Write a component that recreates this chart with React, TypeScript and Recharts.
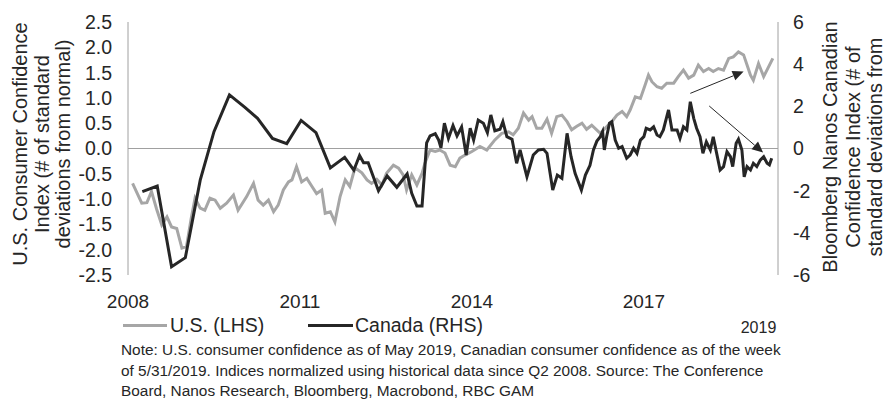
import React from "react";
import { LineChart, Line, XAxis, YAxis, ReferenceLine } from "recharts";

// [decimal year, std deviations]
const usSeries: [number, number][] = [
  [2008.08, -0.69], [2008.24, -1.08], [2008.33, -1.07], [2008.41, -0.85], [2008.5, -1.2],
  [2008.59, -1.51], [2008.68, -1.35], [2008.76, -1.55], [2008.85, -1.58], [2008.94, -1.97],
  [2009.02, -1.94], [2009.1, -1.4], [2009.17, -0.98], [2009.26, -1.18], [2009.34, -1.22],
  [2009.43, -0.98], [2009.52, -1.02], [2009.61, -1.18], [2009.72, -1.08], [2009.84, -0.92],
  [2009.92, -1.22], [2010.07, -0.95], [2010.19, -0.69], [2010.27, -1.02], [2010.36, -1.12],
  [2010.45, -1.02], [2010.54, -1.25], [2010.62, -1.12], [2010.71, -0.82], [2010.8, -0.66],
  [2010.86, -0.62], [2010.94, -0.36], [2011.03, -0.66], [2011.12, -0.59], [2011.21, -0.75],
  [2011.29, -0.89], [2011.38, -0.82], [2011.44, -1.28], [2011.53, -1.25], [2011.61, -1.45],
  [2011.7, -0.95], [2011.79, -0.62], [2011.87, -0.75], [2011.96, -0.38], [2012.08, -0.48],
  [2012.17, -0.62], [2012.25, -0.69], [2012.34, -0.61], [2012.43, -0.72], [2012.51, -0.49],
  [2012.63, -0.33], [2012.72, -0.39], [2012.8, -0.52], [2012.86, -0.82], [2012.95, -0.52],
  [2013.04, -0.72], [2013.13, -0.49], [2013.18, -0.29], [2013.27, -0.03], [2013.36, -0.06],
  [2013.44, -0.03], [2013.53, -0.09], [2013.62, -0.33], [2013.71, -0.36], [2013.79, -0.19],
  [2013.88, -0.13], [2014.0, -0.06], [2014.14, 0.04], [2014.26, -0.03], [2014.4, 0.17],
  [2014.52, 0.3], [2014.64, 0.33], [2014.72, 0.27], [2014.81, 0.4], [2014.9, 0.7],
  [2014.99, 0.56], [2015.05, 0.63], [2015.13, 0.4], [2015.22, 0.4], [2015.31, 0.58],
  [2015.39, 0.3], [2015.48, 0.63], [2015.57, 0.66], [2015.66, 0.53], [2015.74, 0.37],
  [2015.83, 0.44], [2015.92, 0.5], [2016.0, 0.38], [2016.09, 0.46], [2016.24, 0.3],
  [2016.35, 0.43], [2016.44, 0.53], [2016.53, 0.66], [2016.62, 0.73], [2016.7, 0.63],
  [2016.76, 0.76], [2016.85, 1.02], [2016.94, 0.99], [2017.02, 1.25], [2017.08, 1.45],
  [2017.14, 1.32], [2017.23, 1.22], [2017.31, 1.19], [2017.4, 1.29], [2017.52, 1.29],
  [2017.6, 1.42], [2017.69, 1.55], [2017.78, 1.39], [2017.87, 1.45], [2017.95, 1.65],
  [2018.04, 1.52], [2018.13, 1.58], [2018.21, 1.52], [2018.3, 1.58], [2018.39, 1.55],
  [2018.48, 1.78], [2018.56, 1.81], [2018.65, 1.91], [2018.74, 1.85], [2018.8, 1.65],
  [2018.86, 1.45], [2018.91, 1.35], [2019.0, 1.68], [2019.09, 1.42], [2019.25, 1.78],
];

const canadaSeries: [number, number][] = [
  [2008.25, -2.05], [2008.51, -1.78], [2008.76, -5.61], [2009.0, -5.18], [2009.26, -1.5],
  [2009.5, 0.8], [2009.77, 2.54], [2010.04, 1.95], [2010.26, 1.43], [2010.52, 0.48],
  [2010.77, 0.23], [2011.02, 1.33], [2011.28, 0.75], [2011.53, -0.92], [2011.78, -0.42],
  [2011.94, -1.03], [2012.04, -0.33], [2012.11, -0.67], [2012.19, -0.67], [2012.37, -2.0],
  [2012.52, -1.3], [2012.69, -1.84], [2012.87, -1.21], [2012.95, -2.13], [2013.04, -2.73],
  [2013.13, -2.73], [2013.21, 0.27], [2013.27, 0.6], [2013.36, 0.7], [2013.42, 0.4],
  [2013.46, 0.03], [2013.52, 1.2], [2013.59, 0.48], [2013.67, 1.09], [2013.74, 0.6],
  [2013.82, 1.02], [2013.9, -0.31], [2013.97, 0.96], [2014.03, 0.4], [2014.11, 1.35],
  [2014.2, 1.2], [2014.27, 0.75], [2014.33, 1.59], [2014.4, 0.84], [2014.49, 0.91],
  [2014.54, 1.27], [2014.61, 0.56], [2014.7, 0.44], [2014.78, -0.7], [2014.84, -0.07],
  [2014.96, -1.34], [2015.07, -0.31], [2015.16, -0.07], [2015.25, -0.04], [2015.31, -0.23],
  [2015.41, -1.97], [2015.49, -1.26], [2015.57, -1.41], [2015.66, 0.72], [2015.73, -0.39],
  [2015.8, -1.18], [2015.91, -1.97], [2015.98, -1.26], [2016.06, -0.8], [2016.12, -0.07],
  [2016.18, 0.35], [2016.24, 0.56], [2016.28, 0.8], [2016.31, -0.07], [2016.35, 0.56],
  [2016.4, 1.2], [2016.44, 1.27], [2016.5, 0.4], [2016.56, 0.01], [2016.62, 0.09],
  [2016.7, -0.46], [2016.76, -0.31], [2016.82, 0.01], [2016.88, -0.23], [2016.94, 0.4],
  [2017.0, 0.56], [2017.04, 0.96], [2017.11, 0.88], [2017.17, 1.03], [2017.23, 0.64],
  [2017.28, 0.56], [2017.34, 0.88], [2017.43, 1.83], [2017.49, 0.88], [2017.58, 0.88],
  [2017.63, 0.48], [2017.69, 1.03], [2017.75, 0.88], [2017.81, 2.22], [2017.87, 1.43],
  [2017.92, 0.96], [2017.98, 0.56], [2018.03, -0.23], [2018.09, 0.32], [2018.16, -0.07],
  [2018.21, 0.56], [2018.27, -0.23], [2018.33, -1.02], [2018.39, -0.86], [2018.45, -0.15],
  [2018.51, -0.39], [2018.55, -0.86], [2018.61, 0.25], [2018.65, 0.44], [2018.71, -0.07],
  [2018.75, -1.34], [2018.8, -0.86], [2018.86, -1.02], [2018.91, -0.7], [2018.97, -0.86],
  [2019.03, -0.55], [2019.09, -0.39], [2019.15, -0.7], [2019.19, -0.78], [2019.23, -0.46],
];

const yearTicks = [2008, 2011, 2014, 2017, 2019];
const leftTicks = [-2.5, -2, -1.5, -1, -0.5, 0, 0.5, 1, 1.5, 2, 2.5];
const rightTicks = [-6, -4, -2, 0, 2, 4, 6];

// annotation arrows, in (year, LHS value)
const arrows = [
  { from: { x: 2017.81, y: 1.09 }, to: { x: 2018.74, y: 1.52 } },
  { from: { x: 2018.14, y: 0.84 }, to: { x: 2019.08, y: -0.08 } },
];

const usData = usSeries.map(([x, v]) => ({ x, v }));
const canadaData = canadaSeries.map(([x, v]) => ({ x, v }));

const FONT = "'Liberation Sans', Arial, Helvetica, sans-serif";
const INK = "#262626";
const GREY = "#a6a6a6";

const YearTick = (props: any) => {
  const { x, y, payload } = props;
  const last = payload.value === 2019;
  return (
    <text
      x={x}
      y={y + (last ? 56 : 31)}
      textAnchor="middle"
      fill={INK}
      fontSize={last ? 16 : 19}
      fontFamily={FONT}
    >
      {payload.value}
    </text>
  );
};

const LeftTitle = () => (
  <text
    transform="translate(20,144) rotate(-90)"
    textAnchor="middle"
    fill={INK}
    fontSize={20}
    fontFamily={FONT}
    dominantBaseline="central"
  >
    <tspan x={0} dy={0}>U.S. Consumer Confidence</tspan>
    <tspan x={0} dy={21.5}>Index (# of standard</tspan>
    <tspan x={0} dy={21.5}>deviations from normal)</tspan>
  </text>
);

const RightTitle = () => (
  <text
    transform="translate(830,147) rotate(-90)"
    textAnchor="middle"
    fill={INK}
    fontSize={20}
    fontFamily={FONT}
    dominantBaseline="central"
  >
    <tspan x={0} dy={0}>Bloomberg Nanos Canadian</tspan>
    <tspan x={0} dy={22.5}>Confidence Index (# of</tspan>
    <tspan x={0} dy={22.5}>standard deviations from</tspan>
  </text>
);

const Arrow = (props: any) => {
  const { x1, y1, x2, y2 } = props;
  const ang = Math.atan2(y2 - y1, x2 - x1);
  const len = 11;
  const half = 5;
  const bx = x2 - len * Math.cos(ang);
  const by = y2 - len * Math.sin(ang);
  const px = -Math.sin(ang) * half;
  const py = Math.cos(ang) * half;
  return (
    <g>
      <line x1={x1} y1={y1} x2={bx} y2={by} stroke={INK} strokeWidth={1} />
      <polygon points={`${x2},${y2} ${bx + px},${by + py} ${bx - px},${by - py}`} fill={INK} />
    </g>
  );
};

export default function App() {
  return (
    <div style={{ position: "absolute", left: 0, top: 0, width: 885, height: 401, background: "#fff", fontFamily: FONT, color: INK }}>
      <LineChart width={885} height={345} margin={{ top: 22, right: 0, bottom: 0, left: 0 }}>
        <XAxis
          type="number"
          dataKey="x"
          domain={[2008, 2019.34]}
          ticks={yearTicks}
          allowDataOverflow
          axisLine={false}
          tickLine={false}
          tickSize={0}
          height={70}
          tick={<YearTick />}
          interval={0}
        />
        <YAxis
          yAxisId="left"
          domain={[-2.5, 2.5]}
          ticks={leftTicks}
          width={128}
          axisLine={{ stroke: "#a0a0a0" }}
          tickLine={false}
          tickSize={0}
          tickMargin={16}
          tick={{ fill: INK, fontSize: 19.5, fontFamily: FONT }}
          tickFormatter={(v: number) => v.toFixed(1)}
          interval={0}
          label={<LeftTitle />}
        />
        <YAxis
          yAxisId="right"
          orientation="right"
          domain={[-6, 6]}
          ticks={rightTicks}
          width={107}
          axisLine={{ stroke: "#a0a0a0" }}
          tickLine={false}
          tickSize={0}
          tickMargin={15}
          tick={{ fill: INK, fontSize: 19.5, fontFamily: FONT }}
          interval={0}
          label={<RightTitle />}
        />
        <ReferenceLine yAxisId="left" y={0} stroke="#a0a0a0" strokeWidth={1} />
        <Line
          yAxisId="left"
          data={usData}
          dataKey="v"
          type="linear"
          stroke={GREY}
          strokeWidth={3}
          dot={false}
          isAnimationActive={false}
        />
        <Line
          yAxisId="right"
          data={canadaData}
          dataKey="v"
          type="linear"
          stroke={INK}
          strokeWidth={3}
          dot={false}
          isAnimationActive={false}
        />
        {arrows.map((a, i) => (
          <ReferenceLine
            key={i}
            yAxisId="left"
            segment={[a.from, a.to]}
            shape={<Arrow />}
          />
        ))}
      </LineChart>
      <div style={{ position: "absolute", left: 0, top: 313, width: 600, height: 24, fontSize: 19.5, whiteSpace: "nowrap" }}>
        <span style={{ position: "absolute", left: 123, top: 11, width: 44, height: 3, background: GREY }} />
        <span style={{ position: "absolute", left: 170, top: 0, lineHeight: "24px" }}>U.S. (LHS)</span>
        <span style={{ position: "absolute", left: 308, top: 11, width: 45, height: 3, background: INK }} />
        <span style={{ position: "absolute", left: 355, top: 0, lineHeight: "24px" }}>Canada (RHS)</span>
      </div>
      <div style={{ position: "absolute", left: 121, top: 340, fontSize: 15.4, lineHeight: "20.5px", whiteSpace: "nowrap" }}>
        <div>Note: U.S. consumer confidence as of May 2019, Canadian consumer confidence as of the week</div>
        <div>of 5/31/2019. Indices normalized using historical data since Q2 2008. Source: The Conference</div>
        <div>Board, Nanos Research, Bloomberg, Macrobond, RBC GAM</div>
      </div>
    </div>
  );
}
